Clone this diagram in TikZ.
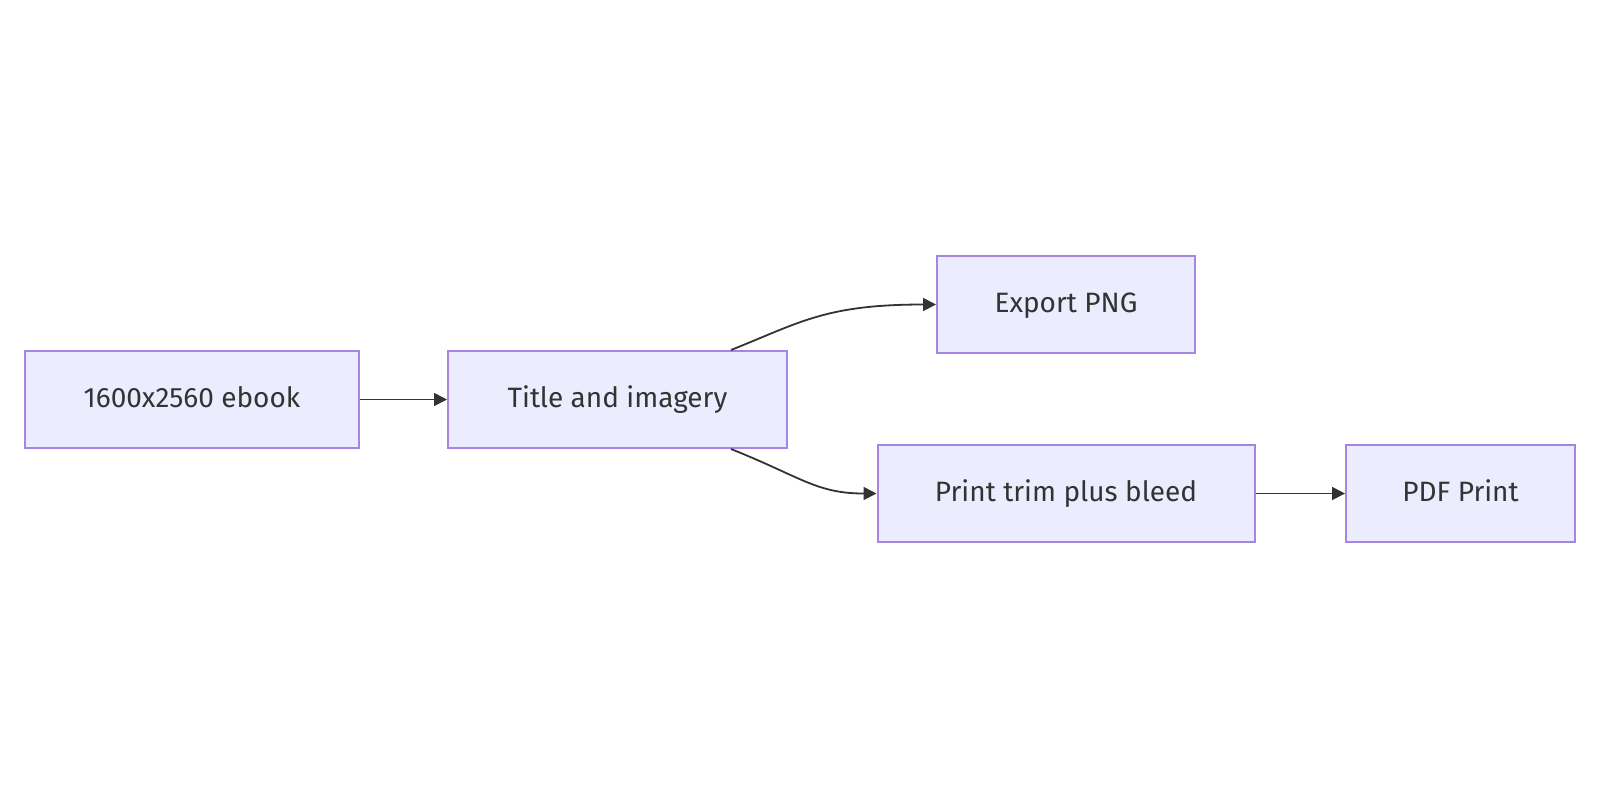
\documentclass[tikz,border=0pt]{standalone}
\usepackage{fontspec}
\setmainfont{Fira Sans}
\usetikzlibrary{arrows.meta,calc}
\definecolor{boxfill}{HTML}{ECECFF}
\definecolor{boxline}{HTML}{A585E5}
\definecolor{edge}{HTML}{333333}
\definecolor{txt}{HTML}{333333}
\begin{document}
\begin{tikzpicture}[x=0.5pt,y=-0.5pt,
  box/.style={draw=boxline,fill=boxfill,line width=1pt,rectangle,inner sep=0pt,
    minimum height=48.5pt,text=txt,text height=10.6pt,text depth=2.2pt,font=\fontsize{14}{16}\selectfont},
  conn/.style={draw=edge,line width=0.9pt,-{Triangle[length=6.5pt,width=6.5pt]}}]
\useasboundingbox[fill=white] (0,0) rectangle (1600,800);
\node[box,minimum width=167pt] (A) at (192,399.5) {1600x2560 ebook};
\node[box,minimum width=169.5pt] (B) at (617.5,399.5) {Title and imagery};
\node[box,minimum width=129pt] (C) at (1066,304.5) {Export PNG};
\node[box,minimum width=188.5pt] (D) at (1066,493.5) {Print trim plus bleed};
\node[box,minimum width=114.5pt] (E) at (1460.5,493.5) {PDF Print};
\draw[conn] (A.east) -- (B.west);
\draw[conn] ([xshift=56.75pt]B.north) .. controls ($([xshift=56.75pt]B.north)+(70,-28)$) and ($(C.west)+(-110,0)$) .. (C.west);
\draw[conn] ([xshift=56.75pt]B.south) .. controls ($([xshift=56.75pt]B.south)+(70,28)$) and ($(D.west)+(-60,0)$) .. (D.west);
\draw[conn] (D.east) -- (E.west);
\end{tikzpicture}
\end{document}
